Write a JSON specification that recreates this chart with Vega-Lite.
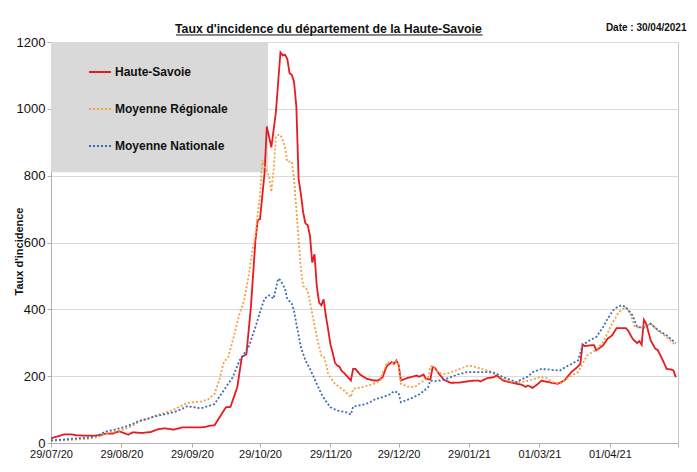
{
  "$schema": "https://vega.github.io/schema/vega-lite/v6.json",
  "width": 627,
  "height": 401,
  "autosize": {"type": "none"},
  "padding": {"left": 51, "top": 42, "right": 19, "bottom": 29},
  "background": "white",
  "config": {"font": "Liberation Sans", "view": {"stroke": "#c8c8c8", "strokeWidth": 1}},
  "title": {"text": "Taux d'incidence du département de la Haute-Savoie", "font": "Liberation Sans", "fontSize": 12.3, "fontWeight": "bold", "color": "#111111", "anchor": "start", "frame": "group", "dx": 124, "dy": 23, "offset": 10},
  "datasets": {
    "series": [
      {"d":"2020-07-29","s":"Haute-Savoie","v":14},{"d":"2020-08-01","s":"Haute-Savoie","v":20},{"d":"2020-08-04","s":"Haute-Savoie","v":26},{"d":"2020-08-07","s":"Haute-Savoie","v":26},{"d":"2020-08-09","s":"Haute-Savoie","v":23},{"d":"2020-08-13","s":"Haute-Savoie","v":22},{"d":"2020-08-17","s":"Haute-Savoie","v":22},{"d":"2020-08-20","s":"Haute-Savoie","v":24},{"d":"2020-08-22","s":"Haute-Savoie","v":28},{"d":"2020-08-25","s":"Haute-Savoie","v":28},{"d":"2020-08-28","s":"Haute-Savoie","v":35},{"d":"2020-08-30","s":"Haute-Savoie","v":30},{"d":"2020-09-01","s":"Haute-Savoie","v":25},{"d":"2020-09-03","s":"Haute-Savoie","v":32},{"d":"2020-09-07","s":"Haute-Savoie","v":30},{"d":"2020-09-11","s":"Haute-Savoie","v":33},{"d":"2020-09-14","s":"Haute-Savoie","v":41},{"d":"2020-09-17","s":"Haute-Savoie","v":44},{"d":"2020-09-21","s":"Haute-Savoie","v":40},{"d":"2020-09-25","s":"Haute-Savoie","v":47},{"d":"2020-09-29","s":"Haute-Savoie","v":47},{"d":"2020-10-03","s":"Haute-Savoie","v":47},{"d":"2020-10-05","s":"Haute-Savoie","v":48},{"d":"2020-10-07","s":"Haute-Savoie","v":52},{"d":"2020-10-09","s":"Haute-Savoie","v":53},{"d":"2020-10-11","s":"Haute-Savoie","v":75},{"d":"2020-10-14","s":"Haute-Savoie","v":107},{"d":"2020-10-16","s":"Haute-Savoie","v":108},{"d":"2020-10-19","s":"Haute-Savoie","v":167},{"d":"2020-10-21","s":"Haute-Savoie","v":257},{"d":"2020-10-23","s":"Haute-Savoie","v":265},{"d":"2020-10-25","s":"Haute-Savoie","v":407},{"d":"2020-10-27","s":"Haute-Savoie","v":607},{"d":"2020-10-28","s":"Haute-Savoie","v":667},{"d":"2020-10-29","s":"Haute-Savoie","v":670},{"d":"2020-10-31","s":"Haute-Savoie","v":807},{"d":"2020-11-01","s":"Haute-Savoie","v":947},{"d":"2020-11-03","s":"Haute-Savoie","v":885},{"d":"2020-11-05","s":"Haute-Savoie","v":990},{"d":"2020-11-06","s":"Haute-Savoie","v":1080},{"d":"2020-11-07","s":"Haute-Savoie","v":1169},{"d":"2020-11-08","s":"Haute-Savoie","v":1160},{"d":"2020-11-09","s":"Haute-Savoie","v":1162},{"d":"2020-11-10","s":"Haute-Savoie","v":1150},{"d":"2020-11-11","s":"Haute-Savoie","v":1107},{"d":"2020-11-12","s":"Haute-Savoie","v":1102},{"d":"2020-11-13","s":"Haute-Savoie","v":1080},{"d":"2020-11-14","s":"Haute-Savoie","v":1007},{"d":"2020-11-15","s":"Haute-Savoie","v":790},{"d":"2020-11-16","s":"Haute-Savoie","v":745},{"d":"2020-11-17","s":"Haute-Savoie","v":690},{"d":"2020-11-18","s":"Haute-Savoie","v":657},{"d":"2020-11-19","s":"Haute-Savoie","v":652},{"d":"2020-11-20","s":"Haute-Savoie","v":620},{"d":"2020-11-21","s":"Haute-Savoie","v":540},{"d":"2020-11-22","s":"Haute-Savoie","v":565},{"d":"2020-11-23","s":"Haute-Savoie","v":470},{"d":"2020-11-24","s":"Haute-Savoie","v":420},{"d":"2020-11-25","s":"Haute-Savoie","v":412},{"d":"2020-11-26","s":"Haute-Savoie","v":430},{"d":"2020-11-27","s":"Haute-Savoie","v":380},{"d":"2020-11-28","s":"Haute-Savoie","v":340},{"d":"2020-11-29","s":"Haute-Savoie","v":295},{"d":"2020-11-30","s":"Haute-Savoie","v":270},{"d":"2020-12-01","s":"Haute-Savoie","v":240},{"d":"2020-12-02","s":"Haute-Savoie","v":232},{"d":"2020-12-03","s":"Haute-Savoie","v":228},{"d":"2020-12-04","s":"Haute-Savoie","v":215},{"d":"2020-12-05","s":"Haute-Savoie","v":210},{"d":"2020-12-06","s":"Haute-Savoie","v":202},{"d":"2020-12-07","s":"Haute-Savoie","v":195},{"d":"2020-12-08","s":"Haute-Savoie","v":187},{"d":"2020-12-09","s":"Haute-Savoie","v":222},{"d":"2020-12-10","s":"Haute-Savoie","v":222},{"d":"2020-12-12","s":"Haute-Savoie","v":205},{"d":"2020-12-15","s":"Haute-Savoie","v":192},{"d":"2020-12-18","s":"Haute-Savoie","v":187},{"d":"2020-12-20","s":"Haute-Savoie","v":187},{"d":"2020-12-22","s":"Haute-Savoie","v":197},{"d":"2020-12-23","s":"Haute-Savoie","v":217},{"d":"2020-12-24","s":"Haute-Savoie","v":232},{"d":"2020-12-25","s":"Haute-Savoie","v":237},{"d":"2020-12-26","s":"Haute-Savoie","v":242},{"d":"2020-12-27","s":"Haute-Savoie","v":237},{"d":"2020-12-28","s":"Haute-Savoie","v":247},{"d":"2020-12-29","s":"Haute-Savoie","v":235},{"d":"2020-12-30","s":"Haute-Savoie","v":187},{"d":"2021-01-02","s":"Haute-Savoie","v":195},{"d":"2021-01-06","s":"Haute-Savoie","v":202},{"d":"2021-01-07","s":"Haute-Savoie","v":198},{"d":"2021-01-09","s":"Haute-Savoie","v":205},{"d":"2021-01-10","s":"Haute-Savoie","v":192},{"d":"2021-01-12","s":"Haute-Savoie","v":190},{"d":"2021-01-13","s":"Haute-Savoie","v":227},{"d":"2021-01-14","s":"Haute-Savoie","v":225},{"d":"2021-01-16","s":"Haute-Savoie","v":205},{"d":"2021-01-18","s":"Haute-Savoie","v":189},{"d":"2021-01-21","s":"Haute-Savoie","v":180},{"d":"2021-01-25","s":"Haute-Savoie","v":181},{"d":"2021-01-30","s":"Haute-Savoie","v":186},{"d":"2021-02-02","s":"Haute-Savoie","v":187},{"d":"2021-02-03","s":"Haute-Savoie","v":184},{"d":"2021-02-06","s":"Haute-Savoie","v":194},{"d":"2021-02-09","s":"Haute-Savoie","v":197},{"d":"2021-02-10","s":"Haute-Savoie","v":202},{"d":"2021-02-11","s":"Haute-Savoie","v":198},{"d":"2021-02-13","s":"Haute-Savoie","v":187},{"d":"2021-02-16","s":"Haute-Savoie","v":182},{"d":"2021-02-19","s":"Haute-Savoie","v":177},{"d":"2021-02-21","s":"Haute-Savoie","v":175},{"d":"2021-02-23","s":"Haute-Savoie","v":168},{"d":"2021-02-24","s":"Haute-Savoie","v":172},{"d":"2021-02-26","s":"Haute-Savoie","v":165},{"d":"2021-02-28","s":"Haute-Savoie","v":175},{"d":"2021-03-02","s":"Haute-Savoie","v":187},{"d":"2021-03-05","s":"Haute-Savoie","v":182},{"d":"2021-03-09","s":"Haute-Savoie","v":177},{"d":"2021-03-12","s":"Haute-Savoie","v":187},{"d":"2021-03-15","s":"Haute-Savoie","v":212},{"d":"2021-03-18","s":"Haute-Savoie","v":229},{"d":"2021-03-19","s":"Haute-Savoie","v":237},{"d":"2021-03-20","s":"Haute-Savoie","v":295},{"d":"2021-03-21","s":"Haute-Savoie","v":290},{"d":"2021-03-23","s":"Haute-Savoie","v":292},{"d":"2021-03-25","s":"Haute-Savoie","v":293},{"d":"2021-03-26","s":"Haute-Savoie","v":277},{"d":"2021-03-29","s":"Haute-Savoie","v":292},{"d":"2021-03-31","s":"Haute-Savoie","v":312},{"d":"2021-04-02","s":"Haute-Savoie","v":322},{"d":"2021-04-04","s":"Haute-Savoie","v":344},{"d":"2021-04-08","s":"Haute-Savoie","v":344},{"d":"2021-04-09","s":"Haute-Savoie","v":337},{"d":"2021-04-11","s":"Haute-Savoie","v":312},{"d":"2021-04-13","s":"Haute-Savoie","v":299},{"d":"2021-04-14","s":"Haute-Savoie","v":305},{"d":"2021-04-15","s":"Haute-Savoie","v":294},{"d":"2021-04-16","s":"Haute-Savoie","v":369},{"d":"2021-04-17","s":"Haute-Savoie","v":357},{"d":"2021-04-19","s":"Haute-Savoie","v":307},{"d":"2021-04-21","s":"Haute-Savoie","v":282},{"d":"2021-04-22","s":"Haute-Savoie","v":279},{"d":"2021-04-24","s":"Haute-Savoie","v":252},{"d":"2021-04-26","s":"Haute-Savoie","v":222},{"d":"2021-04-28","s":"Haute-Savoie","v":220},{"d":"2021-04-29","s":"Haute-Savoie","v":217},{"d":"2021-04-30","s":"Haute-Savoie","v":197},
      {"d":"2020-07-29","s":"Moyenne Régionale","v":7},{"d":"2020-08-03","s":"Moyenne Régionale","v":8},{"d":"2020-08-08","s":"Moyenne Régionale","v":10},{"d":"2020-08-15","s":"Moyenne Régionale","v":13},{"d":"2020-08-19","s":"Moyenne Régionale","v":19},{"d":"2020-08-22","s":"Moyenne Régionale","v":28},{"d":"2020-08-26","s":"Moyenne Régionale","v":34},{"d":"2020-08-30","s":"Moyenne Régionale","v":40},{"d":"2020-09-03","s":"Moyenne Régionale","v":52},{"d":"2020-09-06","s":"Moyenne Régionale","v":65},{"d":"2020-09-10","s":"Moyenne Régionale","v":73},{"d":"2020-09-13","s":"Moyenne Régionale","v":82},{"d":"2020-09-17","s":"Moyenne Régionale","v":90},{"d":"2020-09-21","s":"Moyenne Régionale","v":100},{"d":"2020-09-24","s":"Moyenne Régionale","v":110},{"d":"2020-09-27","s":"Moyenne Régionale","v":120},{"d":"2020-09-30","s":"Moyenne Régionale","v":122},{"d":"2020-10-03","s":"Moyenne Régionale","v":124},{"d":"2020-10-06","s":"Moyenne Régionale","v":130},{"d":"2020-10-09","s":"Moyenne Régionale","v":147},{"d":"2020-10-11","s":"Moyenne Régionale","v":187},{"d":"2020-10-13","s":"Moyenne Régionale","v":240},{"d":"2020-10-14","s":"Moyenne Régionale","v":250},{"d":"2020-10-15","s":"Moyenne Régionale","v":257},{"d":"2020-10-17","s":"Moyenne Régionale","v":307},{"d":"2020-10-20","s":"Moyenne Régionale","v":387},{"d":"2020-10-22","s":"Moyenne Régionale","v":427},{"d":"2020-10-24","s":"Moyenne Régionale","v":500},{"d":"2020-10-26","s":"Moyenne Régionale","v":590},{"d":"2020-10-27","s":"Moyenne Régionale","v":620},{"d":"2020-10-28","s":"Moyenne Régionale","v":687},{"d":"2020-10-29","s":"Moyenne Régionale","v":737},{"d":"2020-10-30","s":"Moyenne Régionale","v":847},{"d":"2020-10-31","s":"Moyenne Régionale","v":827},{"d":"2020-11-02","s":"Moyenne Régionale","v":797},{"d":"2020-11-03","s":"Moyenne Régionale","v":752},{"d":"2020-11-04","s":"Moyenne Régionale","v":817},{"d":"2020-11-05","s":"Moyenne Régionale","v":917},{"d":"2020-11-06","s":"Moyenne Régionale","v":922},{"d":"2020-11-07","s":"Moyenne Régionale","v":922},{"d":"2020-11-08","s":"Moyenne Régionale","v":907},{"d":"2020-11-09","s":"Moyenne Régionale","v":887},{"d":"2020-11-10","s":"Moyenne Régionale","v":842},{"d":"2020-11-12","s":"Moyenne Régionale","v":842},{"d":"2020-11-13","s":"Moyenne Régionale","v":790},{"d":"2020-11-14","s":"Moyenne Régionale","v":700},{"d":"2020-11-15","s":"Moyenne Régionale","v":607},{"d":"2020-11-16","s":"Moyenne Régionale","v":520},{"d":"2020-11-17","s":"Moyenne Régionale","v":470},{"d":"2020-11-18","s":"Moyenne Régionale","v":465},{"d":"2020-11-19","s":"Moyenne Régionale","v":455},{"d":"2020-11-21","s":"Moyenne Régionale","v":387},{"d":"2020-11-23","s":"Moyenne Régionale","v":317},{"d":"2020-11-25","s":"Moyenne Régionale","v":262},{"d":"2020-11-26","s":"Moyenne Régionale","v":260},{"d":"2020-11-27","s":"Moyenne Régionale","v":240},{"d":"2020-11-28","s":"Moyenne Régionale","v":207},{"d":"2020-12-01","s":"Moyenne Régionale","v":177},{"d":"2020-12-05","s":"Moyenne Régionale","v":157},{"d":"2020-12-08","s":"Moyenne Régionale","v":137},{"d":"2020-12-09","s":"Moyenne Régionale","v":162},{"d":"2020-12-13","s":"Moyenne Régionale","v":167},{"d":"2020-12-18","s":"Moyenne Régionale","v":177},{"d":"2020-12-21","s":"Moyenne Régionale","v":187},{"d":"2020-12-22","s":"Moyenne Régionale","v":210},{"d":"2020-12-23","s":"Moyenne Régionale","v":225},{"d":"2020-12-24","s":"Moyenne Régionale","v":242},{"d":"2020-12-26","s":"Moyenne Régionale","v":238},{"d":"2020-12-27","s":"Moyenne Régionale","v":242},{"d":"2020-12-28","s":"Moyenne Régionale","v":245},{"d":"2020-12-29","s":"Moyenne Régionale","v":235},{"d":"2020-12-30","s":"Moyenne Régionale","v":177},{"d":"2021-01-02","s":"Moyenne Régionale","v":169},{"d":"2021-01-05","s":"Moyenne Régionale","v":167},{"d":"2021-01-07","s":"Moyenne Régionale","v":177},{"d":"2021-01-10","s":"Moyenne Régionale","v":190},{"d":"2021-01-11","s":"Moyenne Régionale","v":192},{"d":"2021-01-12","s":"Moyenne Régionale","v":229},{"d":"2021-01-13","s":"Moyenne Régionale","v":230},{"d":"2021-01-15","s":"Moyenne Régionale","v":215},{"d":"2021-01-17","s":"Moyenne Régionale","v":207},{"d":"2021-01-19","s":"Moyenne Régionale","v":207},{"d":"2021-01-24","s":"Moyenne Régionale","v":219},{"d":"2021-01-29","s":"Moyenne Régionale","v":232},{"d":"2021-02-01","s":"Moyenne Régionale","v":227},{"d":"2021-02-06","s":"Moyenne Régionale","v":217},{"d":"2021-02-10","s":"Moyenne Régionale","v":209},{"d":"2021-02-13","s":"Moyenne Régionale","v":192},{"d":"2021-02-17","s":"Moyenne Régionale","v":182},{"d":"2021-02-21","s":"Moyenne Régionale","v":182},{"d":"2021-02-24","s":"Moyenne Régionale","v":186},{"d":"2021-02-26","s":"Moyenne Régionale","v":190},{"d":"2021-03-01","s":"Moyenne Régionale","v":197},{"d":"2021-03-04","s":"Moyenne Régionale","v":195},{"d":"2021-03-07","s":"Moyenne Régionale","v":182},{"d":"2021-03-10","s":"Moyenne Régionale","v":177},{"d":"2021-03-13","s":"Moyenne Régionale","v":192},{"d":"2021-03-16","s":"Moyenne Régionale","v":205},{"d":"2021-03-18","s":"Moyenne Régionale","v":212},{"d":"2021-03-22","s":"Moyenne Régionale","v":262},{"d":"2021-03-26","s":"Moyenne Régionale","v":279},{"d":"2021-03-29","s":"Moyenne Régionale","v":302},{"d":"2021-04-02","s":"Moyenne Régionale","v":357},{"d":"2021-04-05","s":"Moyenne Régionale","v":392},{"d":"2021-04-08","s":"Moyenne Régionale","v":407},{"d":"2021-04-10","s":"Moyenne Régionale","v":387},{"d":"2021-04-12","s":"Moyenne Régionale","v":347},{"d":"2021-04-14","s":"Moyenne Régionale","v":345},{"d":"2021-04-16","s":"Moyenne Régionale","v":347},{"d":"2021-04-19","s":"Moyenne Régionale","v":357},{"d":"2021-04-22","s":"Moyenne Régionale","v":337},{"d":"2021-04-26","s":"Moyenne Régionale","v":317},{"d":"2021-04-30","s":"Moyenne Régionale","v":292},
      {"d":"2020-07-29","s":"Moyenne Nationale","v":8},{"d":"2020-08-03","s":"Moyenne Nationale","v":10},{"d":"2020-08-08","s":"Moyenne Nationale","v":13},{"d":"2020-08-15","s":"Moyenne Nationale","v":17},{"d":"2020-08-19","s":"Moyenne Nationale","v":24},{"d":"2020-08-22","s":"Moyenne Nationale","v":34},{"d":"2020-08-26","s":"Moyenne Nationale","v":40},{"d":"2020-08-30","s":"Moyenne Nationale","v":47},{"d":"2020-09-03","s":"Moyenne Nationale","v":57},{"d":"2020-09-06","s":"Moyenne Nationale","v":67},{"d":"2020-09-10","s":"Moyenne Nationale","v":74},{"d":"2020-09-13","s":"Moyenne Nationale","v":80},{"d":"2020-09-17","s":"Moyenne Nationale","v":86},{"d":"2020-09-21","s":"Moyenne Nationale","v":92},{"d":"2020-09-24","s":"Moyenne Nationale","v":100},{"d":"2020-09-27","s":"Moyenne Nationale","v":110},{"d":"2020-09-30","s":"Moyenne Nationale","v":107},{"d":"2020-10-03","s":"Moyenne Nationale","v":104},{"d":"2020-10-06","s":"Moyenne Nationale","v":110},{"d":"2020-10-09","s":"Moyenne Nationale","v":117},{"d":"2020-10-13","s":"Moyenne Nationale","v":157},{"d":"2020-10-17","s":"Moyenne Nationale","v":197},{"d":"2020-10-20","s":"Moyenne Nationale","v":247},{"d":"2020-10-24","s":"Moyenne Nationale","v":287},{"d":"2020-10-27","s":"Moyenne Nationale","v":347},{"d":"2020-10-29","s":"Moyenne Nationale","v":392},{"d":"2020-10-31","s":"Moyenne Nationale","v":432},{"d":"2020-11-02","s":"Moyenne Nationale","v":442},{"d":"2020-11-04","s":"Moyenne Nationale","v":432},{"d":"2020-11-06","s":"Moyenne Nationale","v":492},{"d":"2020-11-07","s":"Moyenne Nationale","v":487},{"d":"2020-11-09","s":"Moyenne Nationale","v":462},{"d":"2020-11-10","s":"Moyenne Nationale","v":432},{"d":"2020-11-12","s":"Moyenne Nationale","v":417},{"d":"2020-11-13","s":"Moyenne Nationale","v":395},{"d":"2020-11-14","s":"Moyenne Nationale","v":357},{"d":"2020-11-16","s":"Moyenne Nationale","v":287},{"d":"2020-11-18","s":"Moyenne Nationale","v":247},{"d":"2020-11-20","s":"Moyenne Nationale","v":222},{"d":"2020-11-23","s":"Moyenne Nationale","v":177},{"d":"2020-11-25","s":"Moyenne Nationale","v":147},{"d":"2020-11-27","s":"Moyenne Nationale","v":125},{"d":"2020-11-29","s":"Moyenne Nationale","v":107},{"d":"2020-12-02","s":"Moyenne Nationale","v":97},{"d":"2020-12-06","s":"Moyenne Nationale","v":92},{"d":"2020-12-08","s":"Moyenne Nationale","v":85},{"d":"2020-12-09","s":"Moyenne Nationale","v":109},{"d":"2020-12-13","s":"Moyenne Nationale","v":114},{"d":"2020-12-16","s":"Moyenne Nationale","v":120},{"d":"2020-12-19","s":"Moyenne Nationale","v":132},{"d":"2020-12-22","s":"Moyenne Nationale","v":137},{"d":"2020-12-25","s":"Moyenne Nationale","v":145},{"d":"2020-12-27","s":"Moyenne Nationale","v":155},{"d":"2020-12-29","s":"Moyenne Nationale","v":150},{"d":"2020-12-30","s":"Moyenne Nationale","v":122},{"d":"2021-01-03","s":"Moyenne Nationale","v":132},{"d":"2021-01-07","s":"Moyenne Nationale","v":145},{"d":"2021-01-09","s":"Moyenne Nationale","v":155},{"d":"2021-01-11","s":"Moyenne Nationale","v":167},{"d":"2021-01-12","s":"Moyenne Nationale","v":187},{"d":"2021-01-14","s":"Moyenne Nationale","v":185},{"d":"2021-01-16","s":"Moyenne Nationale","v":187},{"d":"2021-01-19","s":"Moyenne Nationale","v":192},{"d":"2021-01-24","s":"Moyenne Nationale","v":205},{"d":"2021-01-28","s":"Moyenne Nationale","v":212},{"d":"2021-02-03","s":"Moyenne Nationale","v":212},{"d":"2021-02-07","s":"Moyenne Nationale","v":212},{"d":"2021-02-10","s":"Moyenne Nationale","v":207},{"d":"2021-02-13","s":"Moyenne Nationale","v":197},{"d":"2021-02-15","s":"Moyenne Nationale","v":192},{"d":"2021-02-19","s":"Moyenne Nationale","v":182},{"d":"2021-02-21","s":"Moyenne Nationale","v":190},{"d":"2021-02-24","s":"Moyenne Nationale","v":199},{"d":"2021-02-26","s":"Moyenne Nationale","v":212},{"d":"2021-02-28","s":"Moyenne Nationale","v":217},{"d":"2021-03-02","s":"Moyenne Nationale","v":222},{"d":"2021-03-06","s":"Moyenne Nationale","v":219},{"d":"2021-03-10","s":"Moyenne Nationale","v":217},{"d":"2021-03-13","s":"Moyenne Nationale","v":229},{"d":"2021-03-16","s":"Moyenne Nationale","v":240},{"d":"2021-03-18","s":"Moyenne Nationale","v":247},{"d":"2021-03-20","s":"Moyenne Nationale","v":292},{"d":"2021-03-23","s":"Moyenne Nationale","v":307},{"d":"2021-03-26","s":"Moyenne Nationale","v":317},{"d":"2021-03-29","s":"Moyenne Nationale","v":347},{"d":"2021-03-31","s":"Moyenne Nationale","v":372},{"d":"2021-04-03","s":"Moyenne Nationale","v":402},{"d":"2021-04-06","s":"Moyenne Nationale","v":412},{"d":"2021-04-08","s":"Moyenne Nationale","v":407},{"d":"2021-04-11","s":"Moyenne Nationale","v":382},{"d":"2021-04-13","s":"Moyenne Nationale","v":347},{"d":"2021-04-16","s":"Moyenne Nationale","v":345},{"d":"2021-04-19","s":"Moyenne Nationale","v":357},{"d":"2021-04-22","s":"Moyenne Nationale","v":339},{"d":"2021-04-26","s":"Moyenne Nationale","v":322},{"d":"2021-04-30","s":"Moyenne Nationale","v":299}
    ]
  },
  "layer": [
    {
      "data": {"values": [{}]},
      "mark": {"type": "rect", "color": "#d9d9d9"},
      "encoding": {
        "x": {"datum": {"year": 2020, "month": 7, "date": 29, "utc": true}, "type": "temporal"},
        "x2": {"datum": {"year": 2020, "month": 11, "date": 1, "hours": 12, "utc": true}},
        "y": {"datum": 810, "type": "quantitative"},
        "y2": {"datum": 1200}
      }
    },
    {
      "data": {"name": "series"},
      "mark": {"type": "line", "strokeWidth": 1.8, "strokeCap": "butt", "interpolate": "linear"},
      "encoding": {
        "x": {
          "field": "d", "type": "temporal",
          "scale": {"type": "utc", "domain": [{"year": 2020, "month": 7, "date": 29, "utc": true}, {"year": 2021, "month": 5, "date": 1, "utc": true}]},
          "axis": {
            "title": null,
            "values": [
              {"year": 2020, "month": 7, "date": 29, "utc": true},
              {"year": 2020, "month": 8, "date": 29, "utc": true},
              {"year": 2020, "month": 9, "date": 29, "utc": true},
              {"year": 2020, "month": 10, "date": 29, "utc": true},
              {"year": 2020, "month": 11, "date": 29, "utc": true},
              {"year": 2020, "month": 12, "date": 29, "utc": true},
              {"year": 2021, "month": 1, "date": 29, "utc": true},
              {"year": 2021, "month": 3, "date": 1, "utc": true},
              {"year": 2021, "month": 4, "date": 1, "utc": true},
              {"year": 2021, "month": 5, "date": 1, "utc": true}
            ],
            "format": "%d/%m/%y",
            "labelExpr": "datum.value >= 1619827200000 ? '' : datum.label",
            "labelFont": "Liberation Sans", "labelFontSize": 11, "labelColor": "#111111",
            "labelPadding": 1, "labelFlush": false, "labelOverlap": false,
            "tickSize": 4, "tickColor": "#b0b0b0", "domainColor": "#b0b0b0", "grid": false
          }
        },
        "y": {
          "field": "v", "type": "quantitative",
          "scale": {"domain": [0, 1200], "nice": false},
          "axis": {
            "values": [0, 200, 400, 600, 800, 1000, 1200],
            "format": "d",
            "title": "Taux d'incidence",
            "titleFont": "Liberation Sans", "titleFontSize": 11, "titleFontWeight": "bold", "titleColor": "#111111",
            "titleX": -32, "titleY": 209, "titleBaseline": "middle", "titleAngle": -90, "titleAlign": "center",
            "labelFont": "Liberation Sans", "labelFontSize": 13, "labelColor": "#111111", "labelPadding": 2,
            "tickSize": 4, "tickColor": "#b0b0b0", "domainColor": "#b0b0b0",
            "grid": true, "gridColor": "#d9d9d9"
          }
        },
        "color": {
          "field": "s", "type": "nominal",
          "scale": {"domain": ["Haute-Savoie", "Moyenne Régionale", "Moyenne Nationale"], "range": ["#e8191f", "#f4a043", "#3b6db3"]},
          "legend": {
            "orient": "none", "legendX": 37, "legendY": 18, "title": null, "padding": 0,
            "labelFont": "Liberation Sans", "labelFontSize": 12, "labelFontWeight": "bold", "labelColor": "#111111",
            "labelOffset": 3, "labelLimit": 300,
            "symbolType": "stroke", "symbolSize": 484, "symbolStrokeWidth": 1.8, "rowPadding": 19
          }
        },
        "strokeDash": {
          "field": "s", "type": "nominal",
          "scale": {"domain": ["Haute-Savoie", "Moyenne Régionale", "Moyenne Nationale"], "range": [[1, 0], [2, 2], [2, 2]]},
          "legend": {
            "orient": "none", "legendX": 37, "legendY": 18, "title": null, "padding": 0,
            "labelFont": "Liberation Sans", "labelFontSize": 12, "labelFontWeight": "bold", "labelColor": "#111111",
            "labelOffset": 3, "labelLimit": 300,
            "symbolType": "stroke", "symbolSize": 484, "symbolStrokeWidth": 1.8, "rowPadding": 19
          }
        }
      }
    },
    {
      "data": {"values": [{}]},
      "mark": {"type": "rule", "color": "#111111", "strokeWidth": 1},
      "encoding": {
        "x": {"datum": {"year": 2020, "month": 9, "date": 22, "utc": true}, "type": "temporal"},
        "x2": {"datum": {"year": 2021, "month": 2, "date": 4, "utc": true}},
        "y": {"datum": 1221, "type": "quantitative"}
      }
    },
    {
      "data": {"values": [{}]},
      "mark": {"type": "text", "font": "Liberation Sans", "fontSize": 10, "fontWeight": "bold", "color": "#111111", "align": "center", "baseline": "middle"},
      "encoding": {
        "x": {"datum": {"year": 2021, "month": 4, "date": 17, "utc": true}, "type": "temporal"},
        "y": {"datum": 1243, "type": "quantitative"},
        "text": {"value": "Date : 30/04/2021"}
      }
    }
  ]
}
